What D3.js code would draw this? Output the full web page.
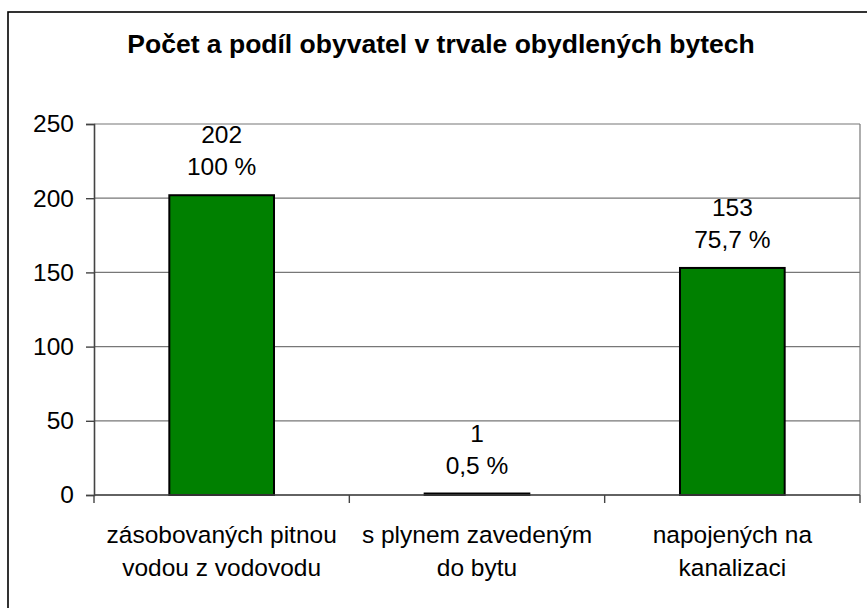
<!DOCTYPE html>
<meta charset="utf-8">
<script src="https://d3js.org/d3.v7.min.js"></script>
<style>
  body { margin: 0; background: #fff; }
  text { font-family: "Liberation Sans", Arial, sans-serif; fill: #000; }
</style>
<div id="chart"></div>
<script>
// data
var categories = [["zásobovaných pitnou", "vodou z vodovodu"], ["s plynem zavedeným", "do bytu"], ["napojených na", "kanalizaci"]];
var values = [202, 1, 153];
var shares = ["100 %", "0,5 %", "75,7 %"];
var yTicks = [0, 50, 100, 150, 200, 250];

var W = 867, H = 608;
var plotL = 94, plotR = 860, plotT = 124, plotB = 495;

var svg = d3.select("#chart").append("svg")
    .attr("width", W).attr("height", H);

// outer frame (runs off the right and bottom edge)
svg.append("rect")
    .attr("x", 8).attr("y", 12)
    .attr("width", 900).attr("height", 700)
    .attr("fill", "none").attr("stroke", "#000").attr("stroke-width", 1.6);

svg.append("text")
    .attr("x", 441).attr("y", 53)
    .attr("text-anchor", "middle")
    .style("font-size", "26.5px").style("font-weight", "bold")
    .text("Počet a podíl obyvatel v trvale obydlených bytech");

var x = d3.scaleBand()
    .domain(d3.range(values.length))
    .range([plotL, plotR])
    .paddingInner(0.59).paddingOuter(0.295);

var y = d3.scaleLinear().domain([0, 250]).range([plotB, plotT]);

// gridlines
svg.append("g").selectAll("line").data(yTicks).enter().append("line")
    .attr("x1", plotL).attr("x2", plotR)
    .attr("y1", function(d) { return y(d); })
    .attr("y2", function(d) { return y(d); })
    .attr("stroke", "#777").attr("stroke-width", 1.2);

// right edge of plot area
svg.append("line")
    .attr("x1", plotR).attr("x2", plotR).attr("y1", plotT).attr("y2", plotB)
    .attr("stroke", "#777").attr("stroke-width", 1.2);

// bars
svg.append("g").selectAll("rect").data(values).enter().append("rect")
    .attr("x", function(d, i) { return x(i); })
    .attr("y", function(d) { return y(d); })
    .attr("width", x.bandwidth())
    .attr("height", function(d) { return y(0) - y(d); })
    .attr("fill", "#008000")
    .attr("stroke", "#000").attr("stroke-width", 2);

// y axis
var yAxis = svg.append("g")
    .attr("transform", "translate(" + plotL + ",0)")
    .call(d3.axisLeft(y).tickValues(yTicks).tickSize(8).tickPadding(12));
yAxis.select(".domain").attr("stroke", "#444").attr("stroke-width", 1.6);
yAxis.selectAll(".tick line").attr("stroke", "#444").attr("stroke-width", 1.4);
yAxis.selectAll(".tick text").style("font-size", "24.5px")
    .style("font-family", "Liberation Sans, Arial, sans-serif").attr("fill", "#000");

// x axis line + ticks at category boundaries
var boundaries = d3.range(values.length + 1).map(function(i) { return plotL + i * x.step(); });
svg.append("line")
    .attr("x1", plotL).attr("x2", plotR).attr("y1", plotB).attr("y2", plotB)
    .attr("stroke", "#444").attr("stroke-width", 1.6);
svg.append("g").selectAll("line").data(boundaries).enter().append("line")
    .attr("x1", function(d) { return d; }).attr("x2", function(d) { return d; })
    .attr("y1", plotB).attr("y2", plotB + 8)
    .attr("stroke", "#444").attr("stroke-width", 1.4);

// category labels
var cat = svg.append("g").selectAll("text").data(categories).enter().append("text")
    .attr("text-anchor", "middle")
    .attr("x", function(d, i) { return x(i) + x.bandwidth() / 2; })
    .attr("y", 543)
    .style("font-size", "24.5px");
cat.selectAll("tspan").data(function(d) { return d; }).enter().append("tspan")
    .attr("x", function() { return d3.select(this.parentNode).attr("x"); })
    .attr("dy", function(d, i) { return i ? 33 : 0; })
    .text(function(d) { return d; });

// data labels
var lab = svg.append("g").selectAll("text").data(values).enter().append("text")
    .attr("text-anchor", "middle")
    .attr("x", function(d, i) { return x(i) + x.bandwidth() / 2; })
    .attr("y", function(d) { return y(d) - 52; })
    .style("font-size", "24.5px");
lab.append("tspan")
    .attr("x", function(d, i) { return x(i) + x.bandwidth() / 2; })
    .text(function(d) { return d; });
lab.append("tspan")
    .attr("x", function(d, i) { return x(i) + x.bandwidth() / 2; })
    .attr("dy", 32)
    .text(function(d, i) { return shares[i]; });
</script>
